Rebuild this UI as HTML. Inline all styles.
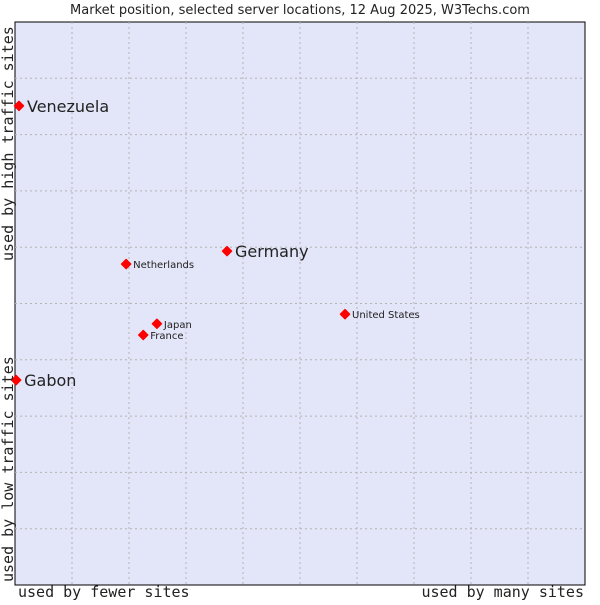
<!DOCTYPE html>
<html><head><meta charset="utf-8"><style>
body{margin:0;background:#fff;}
svg text{fill:#222;}
</style></head><body>
<svg width="600" height="600" xmlns="http://www.w3.org/2000/svg">
<text x="300" y="14" text-anchor="middle" font-family="DejaVu Sans, sans-serif" font-size="13">Market position, selected server locations, 12 Aug 2025, W3Techs.com</text>
<rect x="15" y="22" width="570" height="563" fill="#e3e5f8" stroke="#000" stroke-width="1"/>
<g id="grid"></g>
<g id="points"></g>
<text x="18" y="597" font-family="DejaVu Sans Mono, monospace" font-size="15">used by fewer sites</text>
<text x="584" y="597" text-anchor="end" font-family="DejaVu Sans Mono, monospace" font-size="15">used by many sites</text>
<text transform="translate(13,582) rotate(-90)" font-family="DejaVu Sans Mono, monospace" font-size="15">used by low traffic sites</text>
<text transform="translate(13,261) rotate(-90)" font-family="DejaVu Sans Mono, monospace" font-size="15">used by high traffic sites</text>
</svg>
<script>
const names=["Venezuela","Germany","Netherlands","United States","Japan","France","Gabon"];
const xs=[0.7,37.2,19.5,57.9,24.9,22.5,0.2];
const ys=[85.1,59.3,57.0,48.1,46.4,44.4,36.4];
const big=[true,true,false,false,false,false,true];
const NS="http://www.w3.org/2000/svg";
const L=15,T=22,W=570,H=563;
const sx=v=>L+v/100*W, sy=v=>T+H-v/100*H;
const g=document.getElementById('grid');
for(let k=1;k<10;k++){
 const v=document.createElementNS(NS,'line');
 v.setAttribute('x1',L+k*W/10);v.setAttribute('x2',L+k*W/10);v.setAttribute('y1',T);v.setAttribute('y2',T+H);
 v.setAttribute('stroke','#b4b4b4');v.setAttribute('stroke-dasharray','2,3');
 
 
 g.appendChild(v);
 const h=document.createElementNS(NS,'line');
 h.setAttribute('y1',T+k*H/10);h.setAttribute('y2',T+k*H/10);h.setAttribute('x1',L);h.setAttribute('x2',L+W);
 h.setAttribute('stroke','#b4b4b4');h.setAttribute('stroke-dasharray','2,3');
 
 
 g.appendChild(h);
}
const p=document.getElementById('points');
names.forEach((n,i)=>{
 const x=sx(xs[i]),y=sy(ys[i]);
 const c=document.createElementNS(NS,'path');
 c.setAttribute('d',`M${x} ${y-4.5}L${x+4.5} ${y}L${x} ${y+4.5}L${x-4.5} ${y}Z`);
 c.setAttribute('fill','#f00');c.setAttribute('stroke','#f00');c.setAttribute('stroke-linejoin','round');c.setAttribute('stroke-width','1.5');
 
 
 p.appendChild(c);
 const t=document.createElementNS(NS,'text');
 t.setAttribute('x',x+(big[i]?8:7));t.setAttribute('y',y+(big[i]?6:4));
 t.setAttribute('font-family','DejaVu Sans, sans-serif');t.setAttribute('font-size',big[i]?'16':'10');
 t.textContent=n;
 
 
 p.appendChild(t);
});
</script>
</body></html>
